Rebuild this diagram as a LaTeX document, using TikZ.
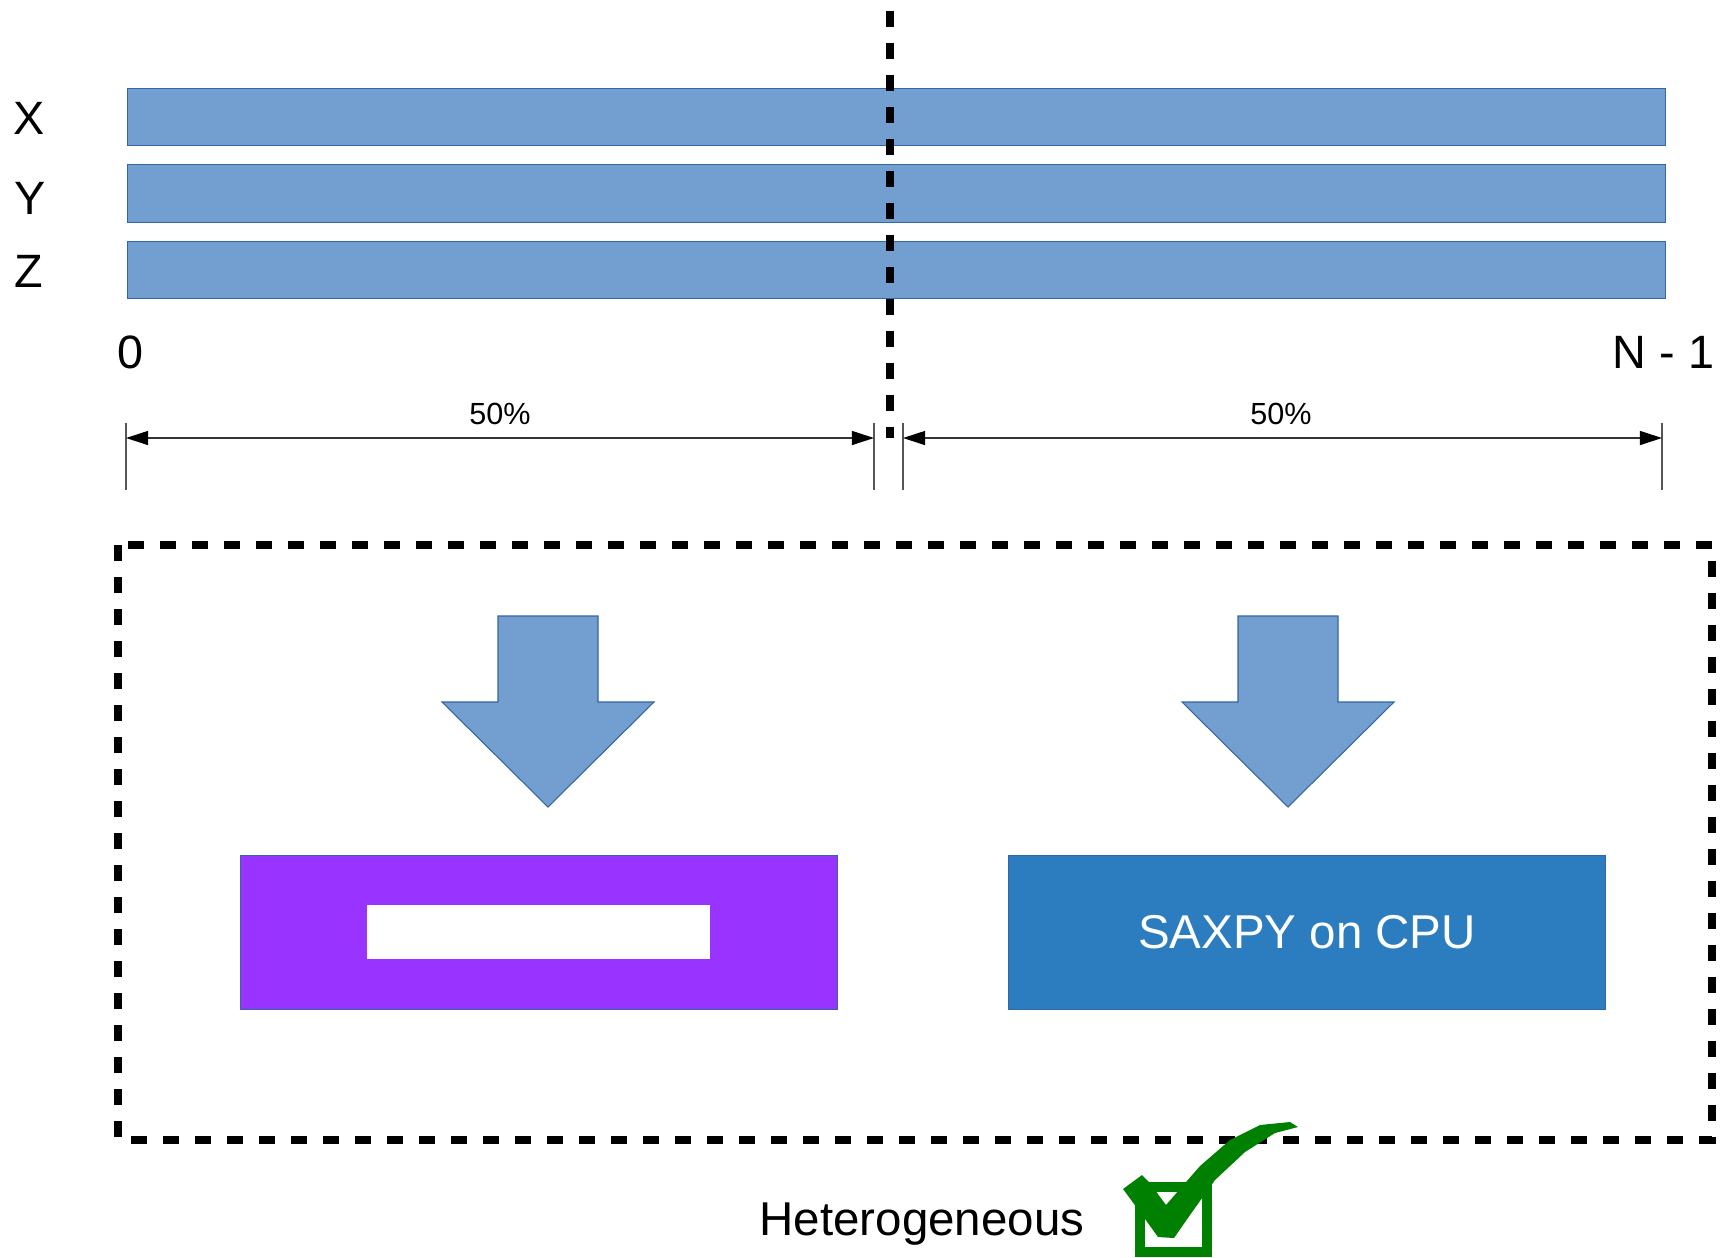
\documentclass[tikz,border=0pt]{standalone}
\usepackage{fontspec}
\setmainfont{Liberation Sans}
\usetikzlibrary{arrows.meta}
\definecolor{barfill}{HTML}{729FCF}
\definecolor{barline}{HTML}{3465A4}
\definecolor{gpupurple}{HTML}{9933FF}
\definecolor{cpublue}{HTML}{2C7DBF}
\definecolor{checkgreen}{HTML}{008000}
\definecolor{dimgray}{HTML}{555555}
\tikzset{
  databar/.style={draw=barline, line width=0.3pt, fill=barfill, rectangle,
    minimum width=15.37cm, minimum height=0.575cm, inner sep=0pt},
  biglabel/.style={font=\fontsize{13.3}{16}\selectfont, inner sep=0pt},
  smalllabel/.style={font=\fontsize{8.7}{10}\selectfont, inner sep=0pt},
  splitline/.style={line width=2.1pt, dash pattern=on 4.55pt off 4.55pt},
  ticks/.style={draw=dimgray, line width=0.35pt},
  dimarrow/.style={line width=0.35pt, draw=black!80,
    {Triangle[length=6.3pt,width=4pt,color=black]}-{Triangle[length=6.3pt,width=4pt,color=black]}},
  devbox/.style={rectangle, minimum width=5.96cm, minimum height=1.53cm, inner sep=0pt},
  downarrow/.style={fill=barfill, draw=barline, line width=0.3pt, line join=miter},
}
\begin{document}
\begin{tikzpicture}[x=0.01cm, y=-0.01cm]
  \useasboundingbox (0,0) rectangle (1727,1257);

  % the three arrays
  \node[databar] (bx) at (896.5,117) {};
  \node[databar] (by) at (896.5,193.5) {};
  \node[databar] (bz) at (896.5,270) {};
  \node[biglabel] (lx) at (29,118) {X};
  \node[biglabel] (ly) at (30,198) {Y};
  \node[biglabel] (lz) at (29,271) {Z};
  \node[biglabel] (first) at (131,352) {0};
  \node[biglabel, anchor=east] (last) at (1715,352) {N - 1};

  % split point
  \coordinate (splittop) at (890,11);
  \coordinate (splitbot) at (890,438);
  \draw[splitline] (splittop) -- (splitbot);

  % dimension lines
  \coordinate (t1a) at (126,423); \coordinate (t1b) at (126,490);
  \coordinate (t2a) at (874,423); \coordinate (t2b) at (874,490);
  \coordinate (t3a) at (903,423); \coordinate (t3b) at (903,490);
  \coordinate (t4a) at (1662,423); \coordinate (t4b) at (1662,490);
  \draw[ticks] (t1a) -- (t1b) (t2a) -- (t2b) (t3a) -- (t3b) (t4a) -- (t4b);
  \coordinate (d1l) at (126,438); \coordinate (d1r) at (874,438);
  \coordinate (d2l) at (903,438); \coordinate (d2r) at (1662,438);
  \draw[dimarrow] (d1l) -- (d1r);
  \draw[dimarrow] (d2l) -- (d2r);
  \node[smalllabel] (p1) at (500,414) {50\%};
  \node[smalllabel] (p2) at (1281,414) {50\%};

  % dashed frame
  \draw[splitline] (118,545) rectangle (1712,1140);

  % block arrows
  \draw[downarrow] (498,616) -- (598,616) -- (598,702) -- (654,702) -- (548,807)
    -- (442,702) -- (498,702) -- cycle;
  \draw[downarrow] (1238,616) -- (1338,616) -- (1338,702) -- (1394,702) -- (1288,807)
    -- (1182,702) -- (1238,702) -- cycle;

  % devices
  \node[devbox, fill=gpupurple, draw=barline, line width=0.3pt] (gpu) at (539,932.5) {};
  \node[rectangle, fill=white, minimum width=3.43cm, minimum height=0.54cm, inner sep=0pt]
    (gpulabel) at (538.5,932) {};
  \node[devbox, fill=cpublue, draw=barline, line width=0.3pt,
    text=white, font=\fontsize{13.5}{16}\selectfont] (cpu) at (1307,932.5) {SAXPY on CPU};

  % result
  \node[biglabel, font=\fontsize{13.5}{16}\selectfont] (het) at (922,1224) {Heterogeneous};
  \draw[checkgreen, line width=2.9pt] (1140,1187) rectangle (1207,1252);
  \fill[white] (1147,1193) -- (1185,1193) -- (1165,1222) -- cycle;
  \fill[checkgreen] (1123,1189) -- (1142,1175) -- (1149,1182) -- (1166,1205)
    -- (1200,1166) -- (1230,1140) -- (1260,1125) -- (1290,1122) -- (1298,1127)
    -- (1275,1133) -- (1245,1152) -- (1215,1180) -- (1190,1215) -- (1174,1238)
    -- (1158,1237) -- (1140,1212) -- cycle;
\end{tikzpicture}
\end{document}
